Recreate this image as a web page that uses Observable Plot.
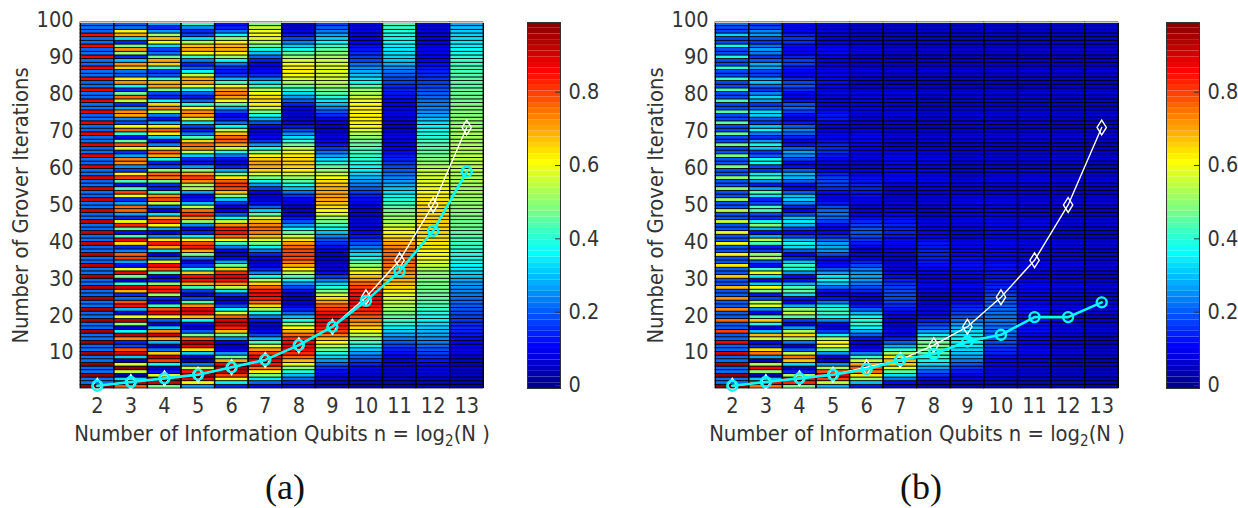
<!DOCTYPE html>
<html><head><meta charset="utf-8">
<script src="https://cdn.jsdelivr.net/npm/d3@7"></script>
<script src="https://cdn.jsdelivr.net/npm/@observablehq/plot@0.6"></script>
<style>
html,body{margin:0;padding:0;background:#fff}
#root{position:relative;width:1238px;height:508px;overflow:hidden}
#root svg{position:absolute;overflow:visible;background:none}
.cap{position:absolute;top:464px;width:100px;text-align:center;font:36px "Liberation Serif",serif;color:#111;line-height:46px}
</style></head><body><div id="root"></div>
<script>
const qubits=[2,3,4,5,6,7,8,9,10,11,12,13];
// Success probability in percent, iteration 1 to 100, one list per qubit count.
const a2=[98,22,22,97,22,21,97,22,22,96,22,21,96,22,22,95,21,22,95,22,21,95,22,22,94,21,22,94,22,21,94,22,22,93,21,22,93,22,21,92,22,22,92,21,22,92,22,21,91,22,22,91,21,22,90,22,21,90,22,22,90,21,22,89,22,21,89,22,22,89,21,22,88,22,21,88,22,22,88,21,22,88,22,21,87,22,22,87,21,22,87,22,21,86,22,22,85,21,22,22];
const a3=[78,94,33,2,55,98,57,5,31,90,78,18,14,73,92,37,7,50,93,59,8,29,85,78,22,15,68,90,40,8,47,88,60,12,27,80,77,24,15,64,86,42,12,44,83,60,15,27,76,76,27,15,60,80,43,12,42,80,62,17,25,72,74,27,15,58,78,46,12,40,76,60,18,24,70,72,28,15,55,76,47,15,36,72,62,20,22,66,72,30,15,50,72,48,14,33,70,62,22,20];
const a4=[47,91,96,58,13,5,37,80,93,66,22,5,29,70,91,72,31,7,20,60,89,79,41,10,14,51,84,83,49,13,10,43,78,86,57,20,8,33,69,84,63,25,8,26,61,81,69,33,10,20,54,79,72,42,14,15,46,75,76,50,18,13,38,70,77,57,24,11,31,63,78,62,28,12,23,55,74,65,36,14,18,48,70,68,42,19,16,42,66,70,47,22,17,33,60,68,53,26,15,28];
const a5=[26,60,89,98,84,54,23,5,8,32,64,88,93,78,49,20,7,12,37,68,88,90,72,43,18,7,16,42,70,85,85,66,39,16,8,21,47,70,84,79,60,34,14,9,24,50,72,82,75,55,30,13,11,27,53,52,73,80,70,49,26,12,14,31,54,72,76,65,44,23,13,17,34,55,71,73,60,40,21,13,20,38,58,70,70,56,36,20,14,23,40,60,70,67,52,33,18,15,25,42];
const a6=[14,35,59,80,93,96,87,69,47,26,10,5,10,25,46,67,83,91,89,77,58,37,18,8,7,16,33,54,73,85,89,82,66,47,27,12,6,10,23,42,61,77,85,84,73,56,36,19,9,8,16,31,50,67,79,81,77,63,46,28,14,9,12,23,38,56,70,77,76,67,53,36,22,13,11,18,29,45,60,70,74,70,59,44,29,17,13,15,22,36,50,62,69,68,62,50,36,22,14,12];
const a7=[11,21,34,48,62,75,84,88,87,81,71,58,43,29,18,10,6,7,13,23,37,51,65,76,84,86,84,77,65,52,37,24,14,8,6,8,14,23,35,47,58,68,74,76,73,67,56,44,31,20,12,8,7,10,17,26,37,48,58,65,69,70,66,60,49,38,26,16,11,8,8,12,19,28,38,47,56,62,65,64,60,53,43,33,23,15,11,9,10,14,21,30,38,46,53,58,60,59,55,49];
const a8=[9,14,21,29,39,49,59,68,76,82,86,88,86,82,76,69,60,50,39,30,21,14,9,7,6,8,12,18,26,35,44,53,62,69,75,79,80,79,76,71,63,55,46,36,27,19,13,9,7,6,8,11,16,22,30,37,44,51,57,62,65,66,65,63,59,54,47,40,33,25,18,13,9,7,6,7,10,14,20,27,33,40,46,52,57,60,62,62,60,56,51,45,38,31,24,18,13,9,7,6];
const a9=[5,6,7,9,12,15,20,26,32,39,46,54,61,68,74,80,84,87,88,87,85,81,77,71,64,56,48,40,32,24,17,12,8,6,5,6,7,9,12,15,19,24,30,36,42,47,52,57,61,64,67,69,70,70,69,67,64,60,55,50,45,39,33,27,22,17,13,10,8,7,6,7,8,11,15,19,24,29,34,39,44,48,51,54,56,57,58,58,57,55,52,49,45,41,36,31,27,23,20,17];
const a10=[4,5,6,7,9,11,14,17,21,26,31,36,42,48,54,60,65,70,74,78,81,83,85,86,86,85,83,80,76,72,67,62,56,50,44,38,33,28,23,19,16,13,11,9,8,7,7,7,8,9,10,12,14,17,20,23,26,29,32,35,37,39,40,41,42,43,45,47,50,53,57,60,62,62,62,62,62,61,59,56,53,50,45,37,33,30,28,25,22,18,17,15,13,12,11,10,9,9,9,9];
const a11=[4,4,5,5,6,7,8,9,10,12,14,17,20,23,27,31,35,39,42,45,48,51,53,55,57,59,62,65,67,69,70,72,74,75,76,76,76,75,73,70,67,64,61,58,55,53,51,49,47,45,42,39,36,33,30,28,26,24,22,20,18,16,14,13,12,11,10,9,8,8,7,7,7,8,8,9,9,10,11,12,13,14,15,17,18,20,22,25,28,30,32,33,34,35,36,37,38,39,41,43];
const a12=[5,5,6,7,9,10,11,13,15,17,19,21,23,25,27,29,31,33,35,37,39,41,43,44,45,46,47,47,48,48,49,50,52,55,58,60,61,62,63,63,64,64,65,65,65,65,65,65,65,65,64,63,62,61,60,59,58,57,56,55,53,51,49,47,45,44,43,42,40,38,37,36,33,30,27,25,24,23,22,21,20,19,18,17,16,15,14,13,12,11,11,10,10,9,9,9,8,8,8,8];
const a13=[4,4,4,5,5,6,6,7,7,8,9,10,11,12,13,14,15,15,16,17,18,19,20,21,22,23,24,25,26,27,30,32,34,36,37,38,39,40,41,42,43,44,45,46,47,47,48,49,49,50,50,51,51,52,52,52,53,53,53,54,54,54,54,54,53,53,53,52,52,52,51,51,50,50,49,49,48,48,47,47,46,46,45,45,44,44,43,43,42,42,40,38,37,35,34,33,32,31,30,28];
const b2=[98,22,22,97,22,21,94,22,21,90,21,21,87,21,20,80,20,20,76,20,20,73,20,20,72,20,19,68,19,19,66,19,20,63,19,19,62,19,19,60,19,19,58,19,19,56,19,19,54,19,19,52,19,19,50,19,19,50,19,19,49,19,19,48,19,18,47,18,18,46,18,18,45,18,18,44,18,18,43,18,18,42,18,18,41,18,18,40,18,18,39,18,18,37,18,18,32,18,18,22];
const b3=[75,85,31,3,50,87,52,5,27,75,64,15,12,55,68,30,9,39,66,43,11,24,58,53,18,13,48,60,31,11,34,59,42,12,20,52,50,17,13,43,54,28,12,28,49,38,15,18,43,43,18,14,34,44,27,13,25,42,34,16,18,37,38,20,16,30,37,26,15,23,35,30,17,19,31,33,20,16,27,32,24,16,21,30,27,17,17,27,28,20,16,23,27,22,16,19,26,24,18,17];
const b4=[47,82,87,53,14,5,33,66,75,55,20,6,23,52,65,53,26,8,17,44,55,50,28,10,13,32,45,44,28,12,12,26,38,42,30,15,11,20,33,38,30,17,11,17,29,35,30,18,11,14,24,32,30,20,12,12,20,29,29,20,12,11,17,24,27,20,13,10,14,20,24,20,13,10,12,17,21,19,13,10,11,15,19,18,14,11,10,13,17,17,14,11,10,12,15,16,14,11,10,11];
const b5=[28,55,80,88,78,52,25,8,8,26,47,60,62,52,35,17,8,11,24,37,42,42,34,22,13,9,12,21,30,35,34,27,19,12,10,12,18,25,28,27,21,15,11,10,12,17,21,22,21,18,13,10,10,12,15,17,18,17,14,11,9,9,11,13,15,15,14,12,10,9,8,9,11,13,13,12,11,9,8,8,9,10,11,12,11,10,8,8,8,9,10,11,11,10,9,8,8,8,8,9];
const b6=[13,30,50,63,75,78,70,56,42,24,12,8,9,13,20,28,36,40,40,36,29,20,13,9,8,10,14,18,23,26,27,26,23,18,14,10,8,8,10,13,16,18,19,19,17,15,12,10,8,8,8,10,12,13,14,14,13,12,10,9,8,7,8,9,10,11,11,11,10,9,8,7,7,7,7,8,9,9,9,9,8,7,7,7,7,7,7,7,7,7,7,8,8,8,7,7,6,6,6,6];
const b7=[7,12,22,33,45,58,66,68,63,52,40,28,20,14,10,8,7,7,8,10,11,13,15,17,18,18,18,17,16,14,12,10,8,7,7,7,8,9,10,11,12,13,14,14,14,13,12,11,9,8,7,7,7,7,8,9,10,11,11,11,11,11,10,10,9,8,7,7,7,7,7,7,7,7,8,8,8,8,8,8,8,7,7,6,6,6,6,6,6,6,6,6,6,6,6,6,6,6,6,6];
const b8=[5,7,10,15,20,27,32,37,42,45,47,48,47,42,35,27,20,17,14,12,10,8,7,7,7,7,8,8,9,9,9,10,11,12,13,14,14,14,13,13,12,11,10,9,8,8,7,7,7,7,7,8,8,8,9,9,9,9,9,9,9,9,9,9,8,8,7,7,7,6,6,6,6,6,6,6,6,6,6,6,6,6,6,6,6,6,6,6,6,6,6,6,6,6,6,6,6,6,6,6];
const b9=[5,6,8,10,13,16,19,23,27,30,32,34,35,35,34,32,29,26,22,19,17,15,14,12,11,10,9,9,9,10,11,11,12,12,12,12,11,11,10,9,9,8,8,8,8,8,9,9,9,9,9,9,8,8,8,8,8,7,7,7,7,7,7,7,7,7,7,7,7,7,7,7,7,7,7,7,7,7,7,7,6,6,6,6,6,6,6,6,6,6,6,6,6,6,6,6,6,6,6,6];
const b10=[5,5,6,7,8,9,10,11,12,14,15,17,18,19,20,21,21,22,22,22,22,21,20,19,18,17,15,14,13,13,12,12,12,12,11,11,11,11,10,10,10,10,10,10,10,9,9,9,9,9,9,9,8,8,8,8,8,8,8,8,7,7,7,7,7,7,7,7,7,7,7,7,7,7,7,7,7,7,7,7,6,6,6,6,6,6,6,6,6,6,6,6,6,6,6,6,6,6,6,6];
const b11=[5,5,6,6,7,7,8,8,9,9,10,10,11,11,11,12,12,12,12,12,12,12,11,11,11,10,10,10,10,10,9,9,9,9,9,9,9,9,9,9,9,9,9,9,9,8,8,8,8,8,8,8,8,8,8,8,8,8,8,8,7,7,7,7,7,7,7,7,7,7,7,7,7,7,7,7,7,7,7,7,6,6,6,6,6,6,6,6,6,6,6,6,6,6,6,6,6,6,6,6];
const b12=[5,5,5,5,6,6,6,6,7,7,7,7,7,8,8,8,8,8,8,8,8,8,8,8,8,8,8,8,8,8,8,8,8,8,8,8,8,8,8,8,8,7,7,7,7,7,7,7,7,7,7,7,7,7,7,7,7,7,7,7,7,7,7,7,7,7,7,7,7,7,6,6,6,6,6,6,6,6,6,6,6,6,6,6,6,6,6,6,6,6,6,6,6,6,6,6,6,6,6,6];
const b13=[4,4,4,5,5,5,5,5,6,6,6,6,6,6,6,7,7,7,7,7,7,7,7,7,7,7,7,7,7,7,7,7,7,7,7,7,7,7,7,7,7,7,7,7,7,7,7,7,7,7,7,7,7,7,7,7,7,7,7,7,6,6,6,6,6,6,6,6,6,6,6,6,6,6,6,6,6,6,6,6,6,6,6,6,6,6,6,6,6,6,6,6,6,6,6,6,6,6,6,6];
const optimal=[1,2,3,4,6,8,12,17,25,35,50,71];
const bestA=[1,2,3,4,6,8,12,17,24,32,43,59];
const bestB=[1,2,3,4,5.5,8,9.6,13,14.8,19.6,19.6,23.6];
const yTicks=[10,20,30,40,50,60,70,80,90,100];
const barTicks=[0,0.2,0.4,0.6,0.8];
const yRange=[0.25,99.45];
const jetStops=[0,0.11,0.36,0.61,0.86,0.99];
const jetColors=["#00008f","#0000ff","#00ffff","#ffff00","#ff0000","#800000"];
const font='"DejaVu Sans Condensed","DejaVu Sans",sans-serif', ink="#333";
const colorScale={type:"linear",domain:jetStops,range:jetColors,interpolate:"rgb"};
// Narrow outline diamond used for the white series.
const tallDiamond={draw(c,s){const r=Math.sqrt(s/Math.PI);c.moveTo(0,-r*1.35);c.lineTo(r*0.85,0);c.lineTo(0,r*1.35);c.lineTo(-r*0.85,0);c.closePath();}};
function place(svg,left,top){svg.style.left=left+"px";svg.style.top=top+"px";document.getElementById("root").append(svg);}
// Rows share the frame evenly, the way an image fills its axes.
const rowEdge=k=>yRange[0]+k*(yRange[1]-yRange[0])/100;
function heat(columns,best,left){
  const cells=columns.flatMap((col,i)=>col.map((p,j)=>({n:qubits[i],k:j+1,p:p/100})));
  const line=optimal.map((k,i)=>({n:qubits[i],k})), cy=best.map((k,i)=>({n:qubits[i],k}));
  const svg=Plot.plot({width:520,height:452,marginLeft:80,marginRight:37,marginTop:22,marginBottom:64,
    style:{background:"none",fontFamily:font,color:ink},
    x:{domain:[1.5,13.5]},y:{domain:yRange},color:colorScale,
    marks:[
      Plot.rect(cells,{x1:d=>d.n-0.5,x2:d=>d.n+0.5,y1:d=>rowEdge(d.k-1),y2:d=>rowEdge(d.k),fill:"p",stroke:"#000",strokeWidth:0.8}),
      Plot.ruleX(qubits.map(n=>n-0.5).concat([13.5]),{stroke:"#000",strokeWidth:1}),
      Plot.frame({anchor:"top",stroke:"#ccc",strokeWidth:1.2}),
      Plot.line(line,{x:"n",y:"k",stroke:"#fff",strokeWidth:1.4}),
      Plot.dot(line,{x:"n",y:"k",stroke:"#fff",strokeWidth:1.4,r:5.5,symbol:tallDiamond}),
      Plot.line(cy,{x:"n",y:"k",stroke:"#00ffff",strokeWidth:2.6}),
      Plot.dot(cy,{x:"n",y:"k",stroke:"#00ffff",strokeWidth:2.4,r:5}),
      Plot.axisX({ticks:qubits,tickFormat:d=>d,tickSize:0,tickPadding:9,fontSize:21.5,label:"Number of Information Qubits n = log2(N )",labelAnchor:"center",labelArrow:"none",labelOffset:52,marginBottom:64,fill:ink,color:ink}),
      Plot.axisY({ticks:yTicks,tickFormat:d=>d,tickSize:0,tickPadding:7,fontSize:21.5,label:"Number of Grover Iterations",labelAnchor:"center",labelArrow:"none",labelOffset:68,marginLeft:80,fill:ink})
    ]});
  svg.querySelectorAll('[aria-label="x-axis label"] text,[aria-label="y-axis label"] text').forEach(t=>t.setAttribute("font-size","21.8"));
  // Set the base-2 subscript of the x label as a lowered, smaller digit.
  svg.querySelectorAll('[aria-label="x-axis label"] text').forEach(t=>{
    t.innerHTML='Number of Information Qubits n = log<tspan dy="5" font-size="15">2</tspan><tspan dy="-5">(N )</tspan>';
  });
  place(svg,left,0);
}
function colorbar(left){
  const levels=d3.range(64).map(i=>({lo:-0.008+i/64*0.998,hi:-0.008+(i+1)/64*0.998}));
  const svg=Plot.plot({width:110,height:410,marginLeft:0,marginRight:77,marginTop:22,marginBottom:22,
    style:{background:"none",fontFamily:font,color:ink},
    x:{domain:[0,1],axis:null},y:{domain:[-0.008,0.99]},color:colorScale,
    marks:[
      Plot.rect(levels,{x1:0,x2:1,y1:"lo",y2:"hi",fill:d=>Math.max(0,(d.lo+d.hi)/2)}),
      Plot.frame({stroke:"#333",strokeWidth:1}),
      Plot.ruleY(barTicks,{x1:0.85,x2:1,stroke:"#333"}),
      Plot.axisY({anchor:"right",ticks:barTicks,tickFormat:d=>d===0?"0":d3.format(".1f")(d),tickSize:0,tickPadding:8,fontSize:21.5,label:null,fill:ink})
    ]});
  place(svg,left,0);
}
heat([a2,a3,a4,a5,a6,a7,a8,a9,a10,a11,a12,a13],bestA,0);
colorbar(527);
heat([b2,b3,b4,b5,b6,b7,b8,b9,b10,b11,b12,b13],bestB,635);
colorbar(1166);
[["(a)",235],["(b)",871]].forEach(([t,x])=>{const d=document.createElement("div");d.className="cap";d.textContent=t;d.style.left=x+"px";document.getElementById("root").append(d);});
</script></body></html>
